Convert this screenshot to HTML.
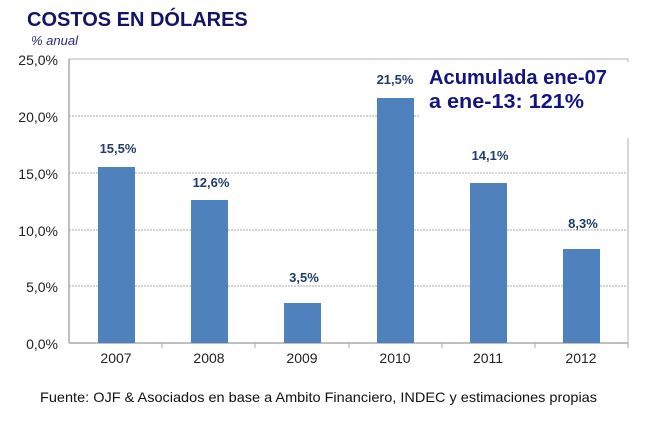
<!DOCTYPE html>
<html><head><meta charset="utf-8"><style>
body{margin:0;background:#fff;}
svg{display:block;font-family:"Liberation Sans",Arial,sans-serif;}
</style></head><body>
<svg width="645" height="421" viewBox="0 0 645 421" xmlns="http://www.w3.org/2000/svg">
<rect width="645" height="421" fill="#fff"/>
<text x="27" y="26" font-size="20" font-weight="bold" fill="#141466">COSTOS EN DÓLARES</text>
<text x="31" y="45" font-size="13" font-style="italic" fill="#2a2a7a">% anual</text>
<g stroke="#aaa" stroke-width="1" stroke-dasharray="2,1">
<line x1="69" y1="116" x2="628" y2="116"/>
<line x1="69" y1="173" x2="628" y2="173"/>
<line x1="69" y1="230" x2="628" y2="230"/>
<line x1="69" y1="286" x2="628" y2="286"/>
</g>
<line x1="69" y1="59" x2="628" y2="59" stroke="#ccc" stroke-width="1.5"/>
<line x1="628" y1="59" x2="628" y2="343" stroke="#ccc" stroke-width="1.5"/>
<line x1="69" y1="59" x2="69" y2="343" stroke="#aaa" stroke-width="1.5"/>
<line x1="69" y1="343" x2="628" y2="343" stroke="#aaa" stroke-width="1.5"/>
<rect x="420" y="62" width="209" height="76" fill="#fff"/>
<g stroke="#aaa"><line x1="162" y1="343" x2="162" y2="348"/><line x1="255" y1="343" x2="255" y2="348"/><line x1="349" y1="343" x2="349" y2="348"/><line x1="442" y1="343" x2="442" y2="348"/><line x1="535" y1="343" x2="535" y2="348"/><line x1="628" y1="343" x2="628" y2="348"/></g>
<g fill="#4f81bd">
<rect x="98" y="167" width="37" height="176"/>
<rect x="191" y="200" width="37" height="143"/>
<rect x="284" y="303" width="37" height="40"/>
<rect x="377" y="98" width="37" height="245"/>
<rect x="470" y="183" width="37" height="160"/>
<rect x="563" y="249" width="37" height="94"/>
</g>
<g font-size="13" font-weight="bold" fill="#1f3d6e" text-anchor="middle">
<text x="118" y="153">15,5%</text>
<text x="211" y="187">12,6%</text>
<text x="304" y="282">3,5%</text>
<text x="395" y="84">21,5%</text>
<text x="490" y="160">14,1%</text>
<text x="583" y="228">8,3%</text>
</g>
<g font-size="14" fill="#222" text-anchor="end">
<text x="58" y="65">25,0%</text>
<text x="58" y="122">20,0%</text>
<text x="58" y="179">15,0%</text>
<text x="58" y="236">10,0%</text>
<text x="58" y="292">5,0%</text>
<text x="58" y="349">0,0%</text>
</g>
<g font-size="14" fill="#222" text-anchor="middle">
<text x="116" y="363">2007</text><text x="209" y="363">2008</text><text x="302" y="363">2009</text>
<text x="395" y="363">2010</text><text x="488" y="363">2011</text><text x="581" y="363">2012</text>
</g>
<text x="429" y="84" font-size="20" font-weight="bold" fill="#141480" textLength="178" lengthAdjust="spacingAndGlyphs">Acumulada ene-07</text>
<text x="429" y="108" font-size="20" font-weight="bold" fill="#141480" textLength="155" lengthAdjust="spacingAndGlyphs">a ene-13: 121%</text>
<text x="40" y="402" font-size="14" fill="#111" textLength="557" lengthAdjust="spacingAndGlyphs">Fuente: OJF &amp; Asociados en base a Ambito Financiero, INDEC y estimaciones propias</text>
</svg>
</body></html>
